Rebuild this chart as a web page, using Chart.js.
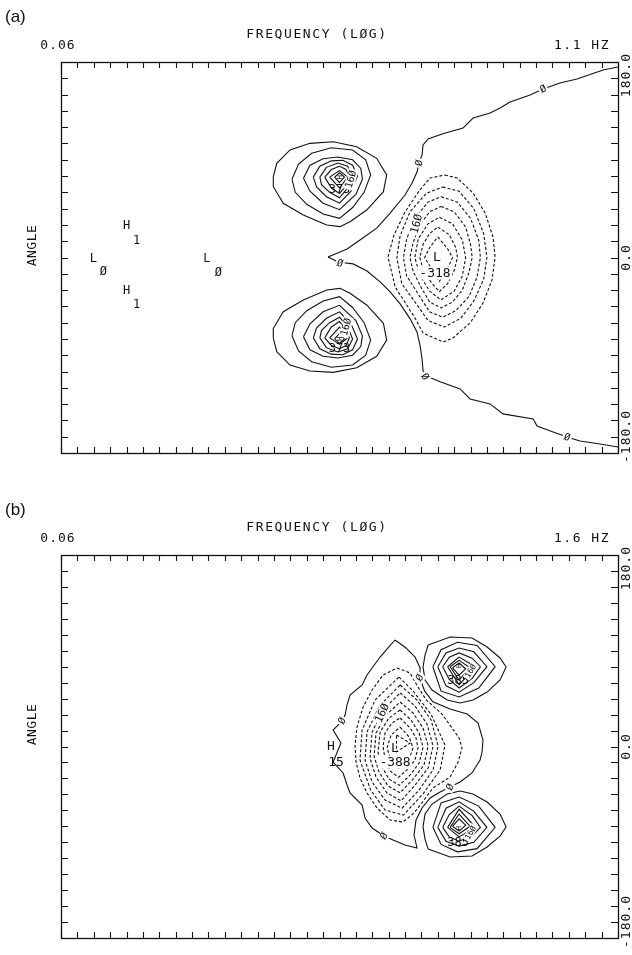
<!DOCTYPE html>
<html><head><meta charset="utf-8">
<script src="https://cdn.jsdelivr.net/npm/chart.js@4.4.1/dist/chart.umd.min.js"></script>
<style>
body{margin:0;background:#fff;width:632px;height:955px;overflow:hidden;position:relative}
canvas{position:absolute;left:0}
</style></head>
<body>
<canvas id="ca" width="632" height="478" style="top:0"></canvas>
<canvas id="cb" width="632" height="477" style="top:478px"></canvas>
<script>
// ---------- axes ----------
const xTicks = [0,1,2,3,4,5,6,7,8,9,10,11,12,13,14,15,16,17,18,19,20,21,22,23,24,25,26,27,28,29,30,31,32,33,34];
const yTicks = [-180,-165,-150,-135,-120,-105,-90,-75,-60,-45,-30,-15,0,15,30,45,60,75,90,105,120,135,150,165,180];
const angleTickLabels = ['180.0','0.0','-180.0'];
const aFreqLabels = ['0.06','1.1 HZ'];
const bFreqLabels = ['0.06','1.6 HZ'];
const axisTitle = 'FREQUENCY (LØG)';
const angleTitle = 'ANGLE';

// ---------- panel (a) ----------
const aZeroUpper = [34.0,175.4, 33.09,172.6, 31.50,164.3, 30.46,160.7, 29.43,155.1, 28.63,149.6, 27.41,143.2, 26.80,137.6, 26.19,133.0, 25.15,128.4, 24.54,119.2, 23.26,113.7, 22.41,109.1, 22.10,103.6, 22.04,94.4, 21.86,87.0, 21.73,78.7, 21.43,68.6, 21.0,57.5, 20.09,40.9, 19.29,27.2, 18.25,16.1, 17.46,7.9, 16.30,0.5];
const aZeroLower = [16.30,0.5, 16.91,-4.1, 17.83,-5.9, 18.68,-12.4, 19.48,-22.5, 20.09,-31.7, 20.70,-42.7, 21.31,-56.5, 21.73,-68.5, 21.92,-81.4, 22.04,-93.4, 22.10,-104.4, 22.41,-109.9, 23.14,-114.5, 24.36,-121.0, 24.97,-130.2, 26.19,-134.8, 26.98,-144.0, 28.82,-148.6, 29.06,-155.1, 30.04,-160.6, 30.89,-165.2, 31.68,-168.9, 32.91,-171.7, 34.0,-174.5];
const aPosUp = [
 [12.96,74.4, 13.17,86.7, 13.98,99.0, 15.20,105.1, 16.62,106.6, 18.05,102.0, 19.27,91.3, 19.88,76.0, 19.68,60.6, 18.66,43.7, 17.64,33.0, 17.03,28.4, 16.22,29.9, 14.79,39.1, 13.57,49.9, 12.96,65.2],
 [14.1,72, 14.5,86, 15.3,96, 16.5,101, 17.8,99, 18.6,90, 18.9,76, 18.5,60, 17.8,46, 17.0,36, 16.0,40, 15.0,49, 14.3,60],
 [14.8,73, 15.2,85, 16.0,91, 16.9,92.5, 17.8,90, 18.3,82, 18.4,72, 18.0,58, 17.0,44, 16.0,50, 15.2,61],
 [15.4,74, 15.8,84, 16.5,89, 17.2,89.5, 17.8,85, 18.1,75, 17.7,61, 17.0,50, 16.2,56, 15.6,65],
 [15.8,74, 16.2,83, 16.9,87, 17.5,84, 17.8,75, 17.5,64, 17.0,55, 16.4,60, 15.9,67],
 [16.1,74, 16.5,81, 17.0,84, 17.4,81, 17.6,74, 17.4,66, 17.0,59, 16.5,64],
 [16.4,74, 17.0,80, 17.5,74, 17.0,64],
 [16.7,74, 17.0,78, 17.3,74, 17.0,69]
];
const aPosDown = [
 [12.96,-74.4, 13.17,-86.7, 13.98,-99.0, 15.20,-104.5, 16.62,-105.8, 18.05,-101.5, 19.27,-91.0, 19.88,-76.0, 19.68,-60.6, 18.66,-43.7, 17.64,-33.0, 17.03,-28.4, 16.22,-29.9, 14.79,-39.1, 13.57,-49.9, 12.96,-65.2],
 [14.1,-72, 14.5,-86, 15.3,-96, 16.5,-101, 17.8,-99, 18.6,-90, 18.9,-76, 18.5,-60, 17.8,-46, 17.0,-36, 16.0,-40, 15.0,-49, 14.3,-60],
 [14.8,-73, 15.2,-85, 16.0,-91, 16.9,-92.5, 17.8,-90, 18.3,-82, 18.4,-72, 18.0,-58, 17.0,-44, 16.0,-50, 15.2,-61],
 [15.4,-74, 15.8,-84, 16.5,-89, 17.2,-89.5, 17.8,-85, 18.1,-75, 17.7,-61, 17.0,-50, 16.2,-56, 15.6,-65],
 [15.8,-74, 16.2,-83, 16.9,-87, 17.5,-84, 17.8,-75, 17.5,-64, 17.0,-55, 16.4,-60, 15.9,-67],
 [16.1,-74, 16.5,-81, 17.0,-84, 17.4,-81, 17.6,-74, 17.4,-66, 17.0,-59, 16.5,-64],
 [16.4,-74, 17.0,-80, 17.5,-74, 17.0,-64],
 [16.7,-75, 17.0,-79, 17.3,-75, 17.0,-70]
];
const aNeg = [
 [23.44,76.0, 24.18,73.2, 25.15,59.4, 25.89,41.0, 26.37,18.9, 26.5,0.5, 26.31,-20.7, 25.76,-41.9, 24.97,-60.3, 23.93,-74.1, 23.32,-77.8, 22.1,-69.5, 21.61,-55.7, 20.4,-27.2, 19.96,0.5, 20.33,20.8, 21.0,42.0, 21.9,62.1, 22.53,73.2],
 [23.3,65, 24.3,61, 25.2,45, 25.8,22, 26.0,0, 25.8,-20, 25.2,-40, 24.4,-56, 23.4,-64, 22.4,-58, 21.8,-45, 20.8,-24, 20.5,0, 20.7,20, 21.3,42, 22.3,59],
 [23.2,56, 24.2,51, 25.0,36, 25.5,16, 25.6,0, 25.4,-18, 24.9,-36, 24.1,-49, 23.3,-55, 22.5,-50, 21.9,-36, 21.1,-17, 20.9,0, 21.1,17, 21.6,36, 22.4,51],
 [23.2,47, 24.0,42, 24.7,28, 25.0,12, 25.1,0, 24.9,-14, 24.5,-30, 23.9,-41, 23.2,-46.5, 22.5,-41, 22.0,-28, 21.5,-13, 21.3,0, 21.5,14, 21.9,30, 22.5,42],
 [23.1,37, 23.9,31, 24.5,16, 24.7,0, 24.5,-17, 24.0,-31, 23.2,-39, 22.5,-31, 21.9,-16, 21.6,0, 21.8,17, 22.4,31],
 [23.0,28, 23.7,21, 24.1,9, 24.2,0, 24.0,-12, 23.6,-24, 23.1,-31.5, 22.6,-23, 22.1,-11, 21.9,0, 22.1,12, 22.5,22],
 [23.0,19, 23.6,8, 23.9,0, 23.6,-10, 23.1,-22, 22.6,-10, 22.2,0, 22.5,9]
];
// [text, x, angle, rotation, size, whiteBackground]
const aLabels = [
 ['Ø',29.43,155.1,-22,10,1], ['Ø',21.86,87,-75,10,1], ['Ø',17.03,-5.3,15,10,1], ['Ø',22.22,-109.7,55,10,1], ['Ø',30.89,-165.5,18,10,1],
 ['H',4.0,30,0,12,0], ['1',4.62,16.1,0,12,0], ['L',1.97,-0.7,0,12,0], ['Ø',2.58,-13.1,0,12,0],
 ['L',8.9,-0.7,0,12,0], ['Ø',9.6,-14,0,12,0], ['H',4.0,-29.9,0,12,0], ['1',4.62,-42.8,0,12,0],
 ['L',22.95,0.5,0,13,0], ['-318',22.83,-14.3,0,13,1], ['16Ø',21.7,31,-75,11,1],
 ['H',17.0,74,90,7,0], ['373',17.0,63,0,12,0], ['16Ø',17.7,72,-75,10,1],
 ['H',17.0,-75,90,7,0], ['373',17.0,-84,0,12,0], ['16Ø',17.4,-64,-75,10,1]
];

// ---------- panel (b) ----------
const bZero = [20.39,100.1, 21.06,92.6, 21.61,84.1, 21.92,73.8, 21.9,64.5, 22.2,52.0, 22.7,42.0, 23.75,35.2, 24.79,30.5, 25.46,22.1, 25.76,6.1, 25.70,-5.2, 25.58,-12.7, 25.09,-24.9, 24.36,-33.4, 23.75,-38.1, 23.14,-42.8, 22.53,-48.4, 22.04,-57.8, 21.67,-69.1, 21.55,-83.2, 21.73,-95.4, 21.0,-92.6, 20.27,-87.9, 19.72,-84.1, 18.99,-76.6, 18.56,-67.2, 18.38,-55.0, 17.64,-43.7, 17.46,-36.2, 17.22,-24.9, 16.61,-14.6, 17.09,3.3, 16.61,15.5, 17.16,24.0, 17.34,29.6, 17.46,39.0, 17.64,48.4, 18.38,57.8, 18.68,67.2, 18.99,73.8, 19.48,84.1, 19.96,92.6, 20.39,100.1];
const bPosUp = [
 [22.41,95.4, 23.75,102.9, 25.09,102.0, 26.01,93.5, 26.80,83.2, 27.17,74.7, 26.80,62.5, 26.01,51.2, 25.15,43.7, 24.36,40.9, 23.57,43.7, 22.65,53.1, 22.22,62.5, 22.10,74.7, 22.22,86.0],
 [22.7,75, 23.2,91, 24.2,98, 25.4,95, 26.5,75, 25.5,55, 24.3,46.5, 23.2,52],
 [23.0,75, 23.5,88, 24.3,92.6, 25.2,89, 26.0,75, 25.2,60, 24.3,51, 23.5,57],
 [23.3,75, 23.7,84, 24.3,88, 25.1,83, 25.6,75, 25.1,64, 24.3,55, 23.7,63],
 [23.6,75, 24.3,84, 25.3,75, 24.3,58],
 [23.75,75, 24.3,81, 24.97,74, 24.3,62.5],
 [23.9,74, 24.3,78.5, 24.7,73, 24.3,67]
];
const bPosDown = [
 [22.41,-96.4, 23.75,-103.9, 25.09,-103.0, 26.01,-94.5, 26.80,-84.2, 27.17,-75.7, 26.80,-63.5, 26.01,-52.2, 25.15,-44.7, 24.36,-41.9, 23.57,-44.7, 22.65,-54.1, 22.22,-63.5, 22.10,-75.7, 22.22,-87.0],
 [22.7,-76, 23.2,-92, 24.2,-99, 25.4,-96, 26.5,-76, 25.5,-56, 24.3,-47.5, 23.2,-53],
 [23.0,-76, 23.5,-89, 24.3,-93.6, 25.2,-90, 26.0,-76, 25.2,-61, 24.3,-52, 23.5,-58],
 [23.3,-76, 23.7,-85, 24.3,-89, 25.1,-84, 25.6,-76, 25.1,-65, 24.3,-56, 23.7,-64],
 [23.6,-76, 24.3,-85, 25.3,-76, 24.3,-59],
 [23.75,-76, 24.3,-82, 24.97,-75, 24.3,-63.5],
 [23.9,-75, 24.3,-79.5, 24.7,-74, 24.3,-68]
];
const bNeg = [
 [20.51,73.8, 21.31,69.1, 21.75,56.9, 22.3,43.7, 23.26,30.5, 23.87,17.4, 24.30,8.0, 24.48,-1.4, 24.24,-14.6, 23.75,-28.7, 22.71,-39.0, 22.16,-50.3, 21.55,-62.5, 20.88,-71.0, 20.09,-69.1, 19.29,-57.8, 18.68,-43.7, 18.25,-29.6, 18.01,-14.6, 17.95,1.4, 18.07,18.3, 18.44,37.1, 18.99,53.1, 19.66,67.2],
 [20.63,65.3, 21.5,52, 22.6,30, 23.44,1.4, 23.14,-22.1, 22.1,-44.5, 20.9,-64.5, 19.78,-59.7, 18.9,-40.9, 18.25,-12.7, 18.38,15.5, 19.17,43.7],
 [20.70,57.8, 21.73,43.7, 22.59,24.9, 23.02,0.5, 22.71,-22.1, 21.85,-41.0, 20.82,-58.0, 19.78,-50.3, 18.99,-33.4, 18.56,-12.7, 18.68,13.6, 19.48,39.0],
 [20.70,50.3, 21.61,38.1, 22.34,21.1, 22.71,0.5, 22.41,-20.2, 21.6,-36.5, 20.76,-51.0, 19.90,-43.7, 19.23,-28.7, 18.86,-10.8, 18.99,13.6, 19.66,34.3],
 [20.70,41.8, 21.49,31.5, 22.10,17.4, 22.41,0.5, 22.16,-17.4, 21.45,-31.5, 20.70,-43.5, 19.96,-37.1, 19.41,-24.0, 19.11,-8.9, 19.23,12.7, 19.84,29.6],
 [20.70,34.3, 21.37,24.9, 21.86,12.7, 22.10,-0.6, 21.86,-15.5, 21.3,-27.0, 20.65,-36.5, 20.02,-30.6, 19.60,-19.3, 19.35,-5.2, 19.48,13.6, 20.02,26.8],
 [20.70,26.8, 21.31,17.4, 21.67,8.0, 21.79,-1.4, 21.61,-12.7, 21.15,-21.5, 20.6,-29.0, 20.09,-23.0, 19.78,-12.7, 19.66,0.5, 19.78,12.7, 20.21,22.1],
 [20.70,18.3, 21.25,8.9, 21.49,-1.4, 21.25,-11.8, 20.6,-20.5, 20.15,-13.6, 19.90,-1.4, 20.15,10.8],
 [20.48,10.8, 21.31,3.2, 20.48,-4.9]
];
const bLabels = [
 ['Ø',17.16,24.0,-60,10,1], ['Ø',21.9,64.5,-55,10,1], ['Ø',23.75,-38.1,-60,10,1], ['Ø',19.72,-84.1,-55,10,1],
 ['H',16.48,0.5,0,13,0], ['15',16.79,-14.6,0,13,0],
 ['L',20.39,-1.4,0,13,0], ['-388',20.39,-14.6,0,13,1], ['16Ø',19.6,31.5,-65,11,1],
 ['H',24.24,75.7,90,7,0], ['385',24.24,62.5,0,12,0], ['16Ø',25.0,71,-60,8,1],
 ['H',24.24,-76.6,90,7,0], ['385',24.24,-89.8,0,12,0], ['16Ø',25.0,-81,-60,8,1]
];

// ---------- helpers ----------
const INK = '#111';
const MONO = '"DejaVu Sans Mono", "Liberation Mono", monospace';
function toPts(arr, close){
  const out=[];
  for(let i=0;i<arr.length;i+=2) out.push({x:arr[i], y:arr[i+1]});
  if(close) out.push({x:arr[0], y:arr[1]});
  return out;
}
function line(arr, close, dashed){
  return {data:toPts(arr, close), showLine:true, borderColor:INK, borderWidth:1.1,
    pointRadius:0, borderDash: dashed?[3,2]:[], tension:0, fill:false};
}
function text(ctx, t, x, y, o){
  ctx.save();
  ctx.translate(x,y);
  if(o.rot) ctx.rotate(o.rot*Math.PI/180);
  ctx.font = o.font || ('13px '+MONO);
  ctx.letterSpacing = o.ls || '0px';
  ctx.textAlign = o.align || 'center';
  ctx.textBaseline = o.base || 'middle';
  ctx.fillStyle = INK;
  ctx.fillText(t,0,0);
  ctx.restore();
}
const framePlugin = {
  id:'frame',
  afterDatasetsDraw(chart){
    const cfg = chart.options.plugins.frame;
    const {ctx, chartArea:a, scales:{x,y}} = chart;
    ctx.save();
    for(const [t,vx,vy,rot,size,bg] of cfg.labels){
      const px=x.getPixelForValue(vx), py=y.getPixelForValue(vy);
      ctx.save(); ctx.translate(px,py); ctx.rotate(rot*Math.PI/180);
      ctx.font = size+'px '+MONO; ctx.textAlign='center'; ctx.textBaseline='middle';
      const w = ctx.measureText(t).width;
      if(bg){ ctx.fillStyle='#fff'; ctx.fillRect(-w/2-1.5,-size*0.5,w+3,size); }
      ctx.fillStyle=INK; ctx.fillText(t,0,0.5);
      ctx.restore();
    }
    ctx.strokeStyle=INK; ctx.lineWidth=1.3;
    ctx.strokeRect(a.left+0.5, a.top+0.5, a.right-a.left, a.bottom-a.top);
    ctx.lineWidth=1.1;
    ctx.beginPath();
    for(const v of xTicks){
      const px=Math.round(x.getPixelForValue(v))+0.5;
      ctx.moveTo(px,a.top); ctx.lineTo(px,a.top+6);
      ctx.moveTo(px,a.bottom); ctx.lineTo(px,a.bottom-6);
    }
    for(const v of yTicks){
      const py=Math.round(y.getPixelForValue(v))+0.5;
      ctx.moveTo(a.left,py); ctx.lineTo(a.left+7,py);
      ctx.moveTo(a.right,py); ctx.lineTo(a.right-7,py);
    }
    ctx.stroke();
    text(ctx, cfg.tag, 5, a.top-45, {font:'17px "Liberation Sans", Arial, sans-serif', align:'left'});
    text(ctx, axisTitle, a.left+256, a.top-27, {ls:'1.6px'});
    text(ctx, cfg.freq[0], a.left-3, a.top-16, {ls:'1px'});
    text(ctx, cfg.freq[1], a.right-8, a.top-16, {ls:'1.5px', align:'right'});
    const rx = a.right+9;
    text(ctx, angleTickLabels[0], rx, a.top-9, {rot:-90, align:'right', ls:'1px'});
    text(ctx, angleTickLabels[1], rx, y.getPixelForValue(0), {rot:-90, ls:'1px'});
    text(ctx, angleTickLabels[2], rx, a.bottom+10, {rot:-90, align:'left', ls:'1px'});
    text(ctx, angleTitle, 33, (a.top+a.bottom)/2 + cfg.angleOff, {rot:-90, ls:'0.5px'});
    ctx.restore();
  }
};
function makeChart(id, datasets, pad, labels, tag, freq, angleOff){
  return new Chart(document.getElementById(id), {
    type:'scatter',
    data:{datasets},
    options:{
      responsive:false, animation:false, events:[],
      layout:{padding:pad},
      scales:{
        x:{type:'linear', min:0, max:34, display:false},
        y:{type:'linear', min:-180, max:180, display:false}
      },
      plugins:{legend:{display:false}, tooltip:{enabled:false},
        frame:{labels, tag, freq, angleOff}}
    },
    plugins:[framePlugin]
  });
}

const aSets = [line(aZeroUpper,false,false), line(aZeroLower,false,false)];
aPosUp.forEach(r=>aSets.push(line(r,true,false)));
aPosDown.forEach(r=>aSets.push(line(r,true,false)));
aNeg.forEach(r=>aSets.push(line(r,true,true)));
makeChart('ca', aSets, {left:61,right:14,top:62,bottom:25}, aLabels, '(a)', aFreqLabels, -12);

const bSets = [line(bZero,false,false)];
bPosUp.forEach(r=>bSets.push(line(r,true,false)));
bPosDown.forEach(r=>bSets.push(line(r,true,false)));
bNeg.forEach(r=>bSets.push(line(r,true,true)));
makeChart('cb', bSets, {left:61,right:14,top:77,bottom:17}, bLabels, '(b)', bFreqLabels, -22);
</script>
</body></html>
